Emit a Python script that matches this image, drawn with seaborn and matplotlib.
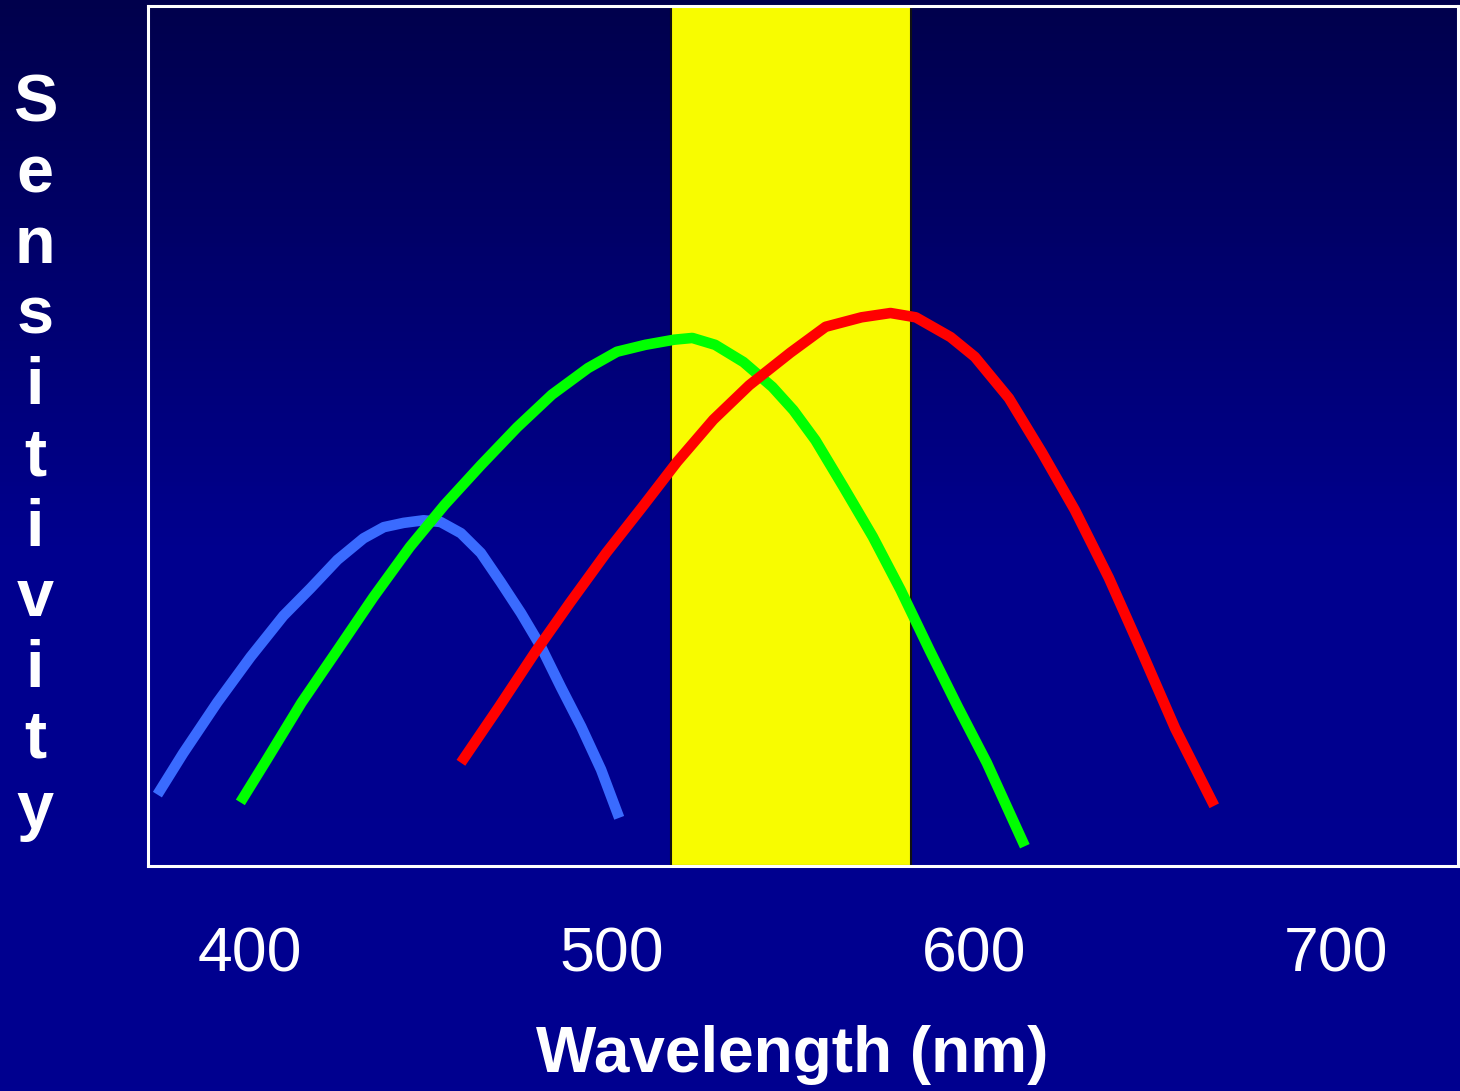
import numpy as np
import pandas as pd
import matplotlib
matplotlib.use("Agg")
import matplotlib.pyplot as plt
import seaborn as sns
from matplotlib.colors import LinearSegmentedColormap

# cone sensitivity curves (wavelength in nm, relative height 0-1)
blue_nm = [374.6, 381.7, 391.1, 400.3, 409.4, 416.9, 424.3, 431.5, 437.1, 442.6, 448.1,
           452.8, 458.4, 463.9, 469.4, 475.0, 480.5, 486.0, 491.6, 497.1, 502.1]
blue_s = [0.083, 0.131, 0.190, 0.243, 0.291, 0.323, 0.356, 0.381, 0.394, 0.399, 0.402,
          0.400, 0.387, 0.364, 0.330, 0.294, 0.255, 0.208, 0.162, 0.112, 0.056]

green_nm = [397.5, 404.7, 414.4, 424.3, 434.3, 444.3, 453.9, 463.9, 473.9, 483.5, 493.5,
            501.5, 509.3, 517.3, 522.3, 528.6, 536.4, 544.4, 550.2, 556.3, 564.0, 572.1,
            579.8, 587.8, 595.6, 603.6, 614.1]
green_s = [0.074, 0.123, 0.190, 0.251, 0.313, 0.371, 0.420, 0.466, 0.510, 0.548, 0.579,
           0.598, 0.606, 0.612, 0.614, 0.606, 0.586, 0.557, 0.530, 0.495, 0.441, 0.383,
           0.321, 0.251, 0.185, 0.120, 0.023]

red_nm = [458.4, 468.9, 478.8, 488.5, 498.5, 508.4, 518.1, 528.1, 538.0, 549.4, 559.1,
          569.0, 577.0, 584.0, 593.6, 600.3, 609.7, 618.8, 627.9, 637.3, 646.5, 655.6, 666.4]
red_s = [0.120, 0.185, 0.248, 0.306, 0.364, 0.417, 0.470, 0.519, 0.559, 0.597, 0.627,
         0.638, 0.643, 0.638, 0.615, 0.592, 0.544, 0.481, 0.414, 0.335, 0.248, 0.160, 0.070]

band = (516.5, 582.8)          # yellow highlighted range
xticks = [400, 500, 600, 700]

df = pd.concat([
    pd.DataFrame({"nm": blue_nm, "sens": blue_s, "cone": "S"}),
    pd.DataFrame({"nm": green_nm, "sens": green_s, "cone": "M"}),
    pd.DataFrame({"nm": red_nm, "sens": red_s, "cone": "L"}),
], ignore_index=True)
palette = {"S": "#3a6bff", "M": "#00ff00", "L": "#ff0000"}

plt.rcParams["font.family"] = ["Liberation Sans", "DejaVu Sans"]

fig = plt.figure(figsize=(14.6, 10.91), dpi=100)

# gradient slide background
bg = fig.add_axes([0, 0, 1, 1], zorder=0)
grad = np.linspace(0, 1, 256).reshape(-1, 1)
cmap = LinearSegmentedColormap.from_list("slide", ["#00004c", "#00008e", "#000090"])
bg.imshow(grad, aspect="auto", cmap=cmap, extent=[0, 1, 0, 1], origin="upper")
bg.axis("off")

ax = fig.add_axes([148 / 1460, 1 - 866 / 1091, 1310 / 1460, 860 / 1091], zorder=1)
ax.patch.set_alpha(0)

ax.axvspan(*band, facecolor="#f8fc00", edgecolor="#111111", linewidth=1.5, zorder=1)

sns.lineplot(data=df, x="nm", y="sens", hue="cone", palette=palette,
             hue_order=["S", "M", "L"], sort=False, estimator=None,
             linewidth=7.6, solid_capstyle="butt", solid_joinstyle="round",
             legend=False, ax=ax, zorder=2)

ax.set_xlim(372, 733.7)
ax.set_ylim(0, 1)
ax.set_xticks(xticks)
ax.set_xticklabels([str(t) for t in xticks])
ax.set_yticks([])
ax.tick_params(axis="x", length=0, pad=43, labelsize=45, labelcolor="white")
ax.set_xlabel("")
ax.set_ylabel("")
for sp in ax.spines.values():
    sp.set_color("white")
    sp.set_linewidth(2.2)

fig.text(792 / 1460, 1 - 1055 / 1091, "Wavelength (nm)", ha="center", va="center",
         fontsize=46, fontweight="bold", color="white")
fig.text(35 / 1460, 1 - 458 / 1091, "\n".join("Sensitivity"), ha="center", va="center",
         fontsize=48, fontweight="bold", color="white", linespacing=1.18)

fig.savefig("out.png", dpi=100)
